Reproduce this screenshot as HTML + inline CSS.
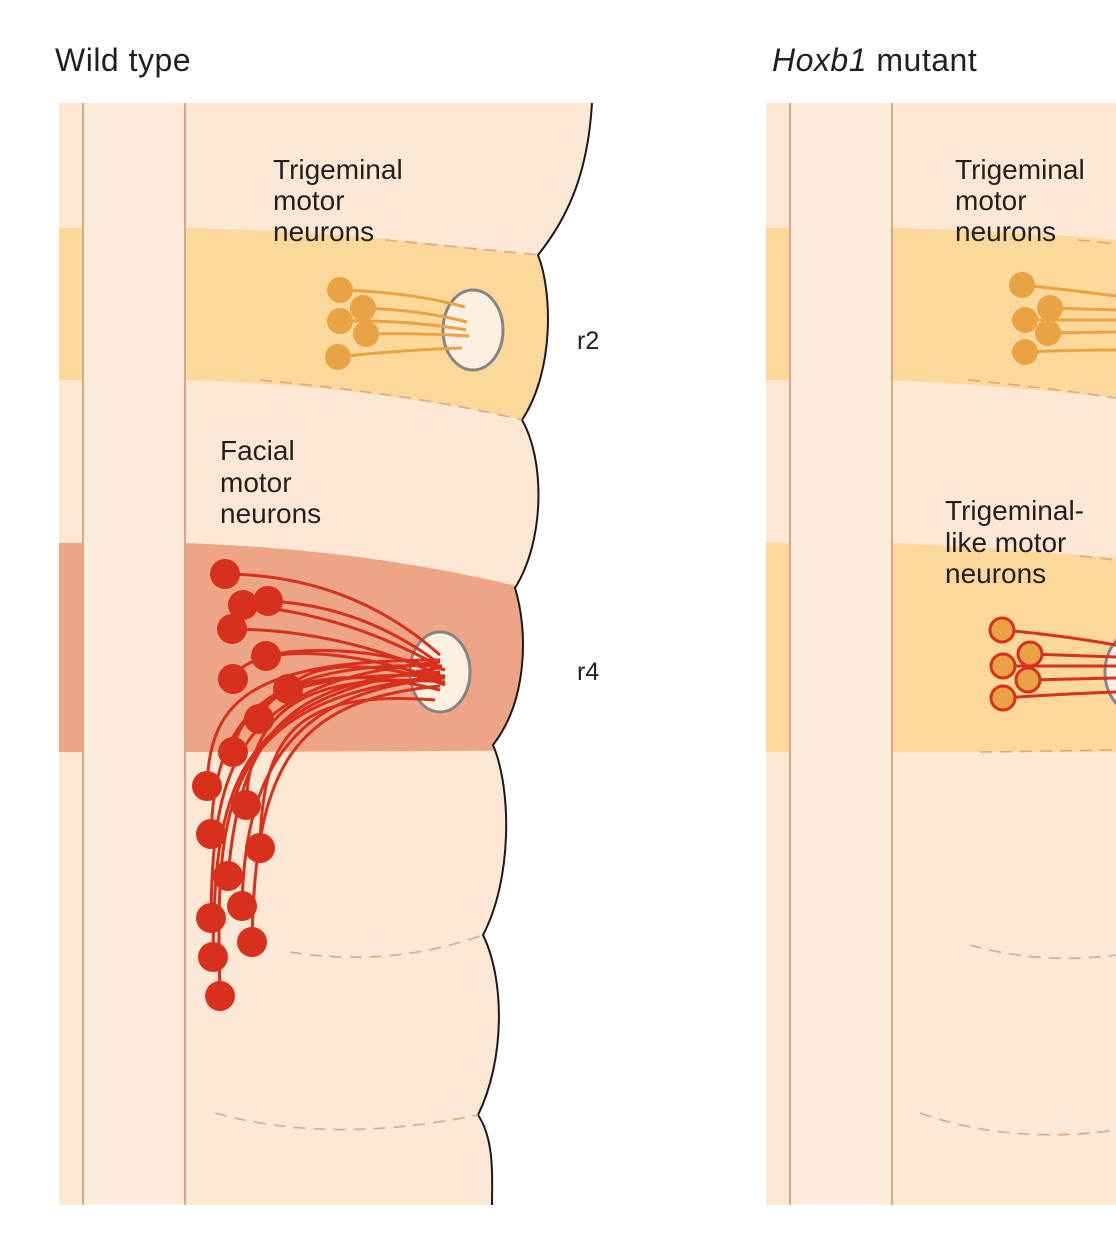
<!DOCTYPE html>
<html><head><meta charset="utf-8"><style>
html,body{margin:0;padding:0;background:#fff}
svg{display:block}
text{font-family:"Liberation Sans",sans-serif;fill:#231f20}
</style></head><body>
<svg width="1116" height="1241" viewBox="0 0 1116 1241" xmlns="http://www.w3.org/2000/svg">
<defs>
<clipPath id="lt"><path d="M59,103 L592,103 C588,170 570,215 538,255 C552,290 555,370 522,420 C545,460 545,540 515,588 C528,630 528,700 493,745 C512,790 512,880 483,935 C505,980 505,1060 478,1115 C495,1140 492,1180 492,1205 L59,1205 Z"/></clipPath>
</defs>
<text x="55" y="71" font-size="32" letter-spacing="0.5">Wild type</text>
<text x="772" y="71" font-size="32" letter-spacing="0.5"><tspan font-style="italic">Hoxb1</tspan> mutant</text>

<!-- LEFT PANEL -->
<g clip-path="url(#lt)">
<rect x="59" y="103" width="560" height="1102" fill="#fde8d6"/>
<path d="M59,228 L185,228 Q380,232 560,260 L560,428 Q380,385 185,380 L59,380 Z" fill="#fcd99b"/>
<path d="M59,543 L185,543 Q380,550 540,592 L540,750 Q380,752 185,752 L59,752 Z" fill="#eea585"/>
<rect x="83" y="103" width="102" height="1102" fill="#fdebdc"/>
</g>
<path d="M592,103 C588,170 570,215 538,255 C552,290 555,370 522,420 C545,460 545,540 515,588 C528,630 528,700 493,745 C512,790 512,880 483,935 C505,980 505,1060 478,1115 C495,1140 492,1180 492,1205" fill="none" stroke="#1a1a1a" stroke-width="2"/>
<line x1="83" y1="103" x2="83" y2="1205" stroke="#d5a88a" stroke-width="2"/>
<line x1="185" y1="103" x2="185" y2="1205" stroke="#d5a88a" stroke-width="2"/>
<g fill="none" stroke="#d9a98a" stroke-width="1.6" stroke-dasharray="12,8">
<path d="M385,240 Q470,248 538,255"/>
<path d="M260,380 Q420,395 522,420"/>
<path d="M290,952 Q390,968 483,935"/>
<path d="M215,1113 Q330,1145 478,1115"/>
</g>
<ellipse cx="473" cy="330" rx="30" ry="40" fill="#fdefe2" stroke="#858585" stroke-width="3"/>
<g stroke="#e9a244" stroke-width="3" fill="none">
<path d="M340,290 Q410,292 465,307"/>
<path d="M363,308 Q420,310 467,322"/>
<path d="M340,321 Q410,320 466,330"/>
<path d="M366,334 Q420,333 469,336"/>
<path d="M338,357 Q400,350 462,348"/>
</g>
<g fill="#e9a244">
<circle cx="340" cy="290" r="13"/><circle cx="340" cy="321" r="13"/><circle cx="338" cy="357" r="13"/>
<circle cx="363" cy="308" r="13"/><circle cx="366" cy="334" r="13"/>
</g>
<g font-size="28">
<text x="273" y="179">Trigeminal</text>
<text x="273" y="210">motor</text>
<text x="273" y="241">neurons</text>
<text x="220" y="460">Facial</text>
<text x="220" y="492">motor</text>
<text x="220" y="523">neurons</text>
</g>
<text x="577" y="349" font-size="25">r2</text>
<text x="577" y="680" font-size="25">r4</text>

<ellipse cx="440" cy="672" rx="30" ry="40" fill="#fdefe2" stroke="#858585" stroke-width="3"/>
<g stroke="#d9301c" stroke-width="3" fill="none">
<path d="M225,574 Q350,575 440,655"/>
<path d="M268,601 Q360,605 437,662"/>
<path d="M243,605 Q350,615 442,668"/>
<path d="M232,629 Q340,630 440,675"/>
<path d="M266,656 Q340,640 445,670"/>
<path d="M233,679 C245,650 320,640 442,680"/>
<path d="M288,689 C310,660 380,660 445,685"/>
<path d="M259,719 C275,680 340,665 440,690"/>
<path d="M233,752 C240,700 300,670 445,676"/>
<path d="M207,786 C210,700 250,660 440,660"/>
<path d="M246,805 C250,720 290,670 445,682"/>
<path d="M211,834 C215,720 260,660 442,666"/>
<path d="M260,848 C262,730 300,690 435,700"/>
<path d="M228,876 C240,740 280,680 440,672"/>
<path d="M242,906 C245,760 300,690 445,678"/>
<path d="M211,918 C212,760 240,680 440,662"/>
<path d="M252,942 C255,770 290,700 440,686"/>
<path d="M213,957 C215,790 230,700 438,668"/>
<path d="M220,996 C215,800 220,700 442,676"/>
</g>
<g fill="#d9301c">
<circle cx="225" cy="574" r="15"/><circle cx="243" cy="605" r="15"/><circle cx="268" cy="601" r="15"/>
<circle cx="232" cy="629" r="15"/><circle cx="266" cy="656" r="15"/><circle cx="233" cy="679" r="15"/>
<circle cx="288" cy="689" r="15"/><circle cx="259" cy="719" r="15"/><circle cx="233" cy="752" r="15"/>
<circle cx="207" cy="786" r="15"/><circle cx="246" cy="805" r="15"/><circle cx="211" cy="834" r="15"/>
<circle cx="260" cy="848" r="15"/><circle cx="228" cy="876" r="15"/><circle cx="211" cy="918" r="15"/>
<circle cx="242" cy="906" r="15"/><circle cx="252" cy="942" r="15"/><circle cx="213" cy="957" r="15"/>
<circle cx="220" cy="996" r="15"/>
</g>

<!-- RIGHT PANEL -->
<rect x="766" y="103" width="350" height="1102" fill="#fde8d6"/>
<path d="M766,228 L892,228 Q1000,230 1116,240 L1116,398 Q1000,385 892,380 L766,380 Z" fill="#fcd99b"/>
<path d="M766,543 L892,543 Q1000,548 1116,558 L1116,752 L892,752 L766,752 Z" fill="#fcd99b"/>
<rect x="790" y="103" width="102" height="1102" fill="#fdebdc"/>
<line x1="790" y1="103" x2="790" y2="1205" stroke="#d5a88a" stroke-width="2"/>
<line x1="892" y1="103" x2="892" y2="1205" stroke="#d5a88a" stroke-width="2"/>
<g fill="none" stroke="#d9a98a" stroke-width="1.6" stroke-dasharray="12,8">
<path d="M1078,240 L1116,244"/>
<path d="M968,380 Q1050,388 1116,398"/>
<path d="M1080,556 L1116,560"/>
<path d="M980,752 L1116,750"/>
<path d="M970,945 Q1040,965 1116,955"/>
<path d="M920,1113 Q1010,1145 1116,1130"/>
</g>
<g stroke="#e9a244" stroke-width="3" fill="none">
<path d="M1022,285 Q1070,290 1116,296"/>
<path d="M1050,308 L1116,310"/>
<path d="M1025,320 L1116,320"/>
<path d="M1048,333 L1116,332"/>
<path d="M1025,352 Q1070,350 1116,350"/>
</g>
<g fill="#e9a244">
<circle cx="1022" cy="285" r="13"/><circle cx="1025" cy="320" r="13"/><circle cx="1025" cy="352" r="13"/>
<circle cx="1050" cy="308" r="13"/><circle cx="1048" cy="333" r="13"/>
</g>
<ellipse cx="1135" cy="672" rx="30" ry="40" fill="#fdefe2" stroke="#858585" stroke-width="3"/>
<g stroke="#d9301c" stroke-width="3" fill="none">
<path d="M1002,630 Q1060,635 1116,645"/>
<path d="M1030,654 L1116,657"/>
<path d="M1003,666 L1116,666"/>
<path d="M1028,680 L1116,678"/>
<path d="M1003,698 Q1060,694 1116,692"/>
</g>
<g fill="#e9a244" stroke="#d9301c" stroke-width="3">
<circle cx="1002" cy="630" r="12"/><circle cx="1003" cy="666" r="12"/><circle cx="1003" cy="698" r="12"/>
<circle cx="1030" cy="654" r="12"/><circle cx="1028" cy="680" r="12"/>
</g>
<g font-size="28">
<text x="955" y="179">Trigeminal</text>
<text x="955" y="210">motor</text>
<text x="955" y="241">neurons</text>
<text x="945" y="520">Trigeminal-</text>
<text x="945" y="552">like motor</text>
<text x="945" y="583">neurons</text>
</g>
</svg>
</body></html>
